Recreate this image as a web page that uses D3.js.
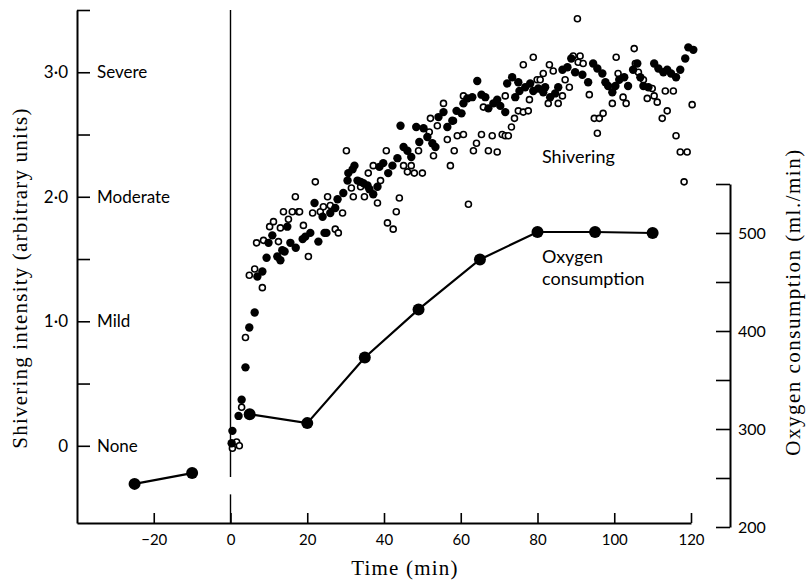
<!DOCTYPE html>
<html>
<head>
<meta charset="utf-8">
<script src="https://cdn.jsdelivr.net/npm/d3@7"></script>
<style>
  body { margin: 0; background: #fff; }
  .tick text { font-family: Lato, "Open Sans", sans-serif; fill: #000; }
  .title { font-family: "Liberation Serif", "DejaVu Serif", serif; fill: #000; }
  .note { font-family: Lato, "Open Sans", sans-serif; fill: #000; }
</style>
</head>
<body>
<div id="chart"></div>
<script>
// Shivering intensity, filled circles [time (min), intensity]
var shiverFilled = [
  [0.3,0.02],[0.5,0.12],[2.1,0.24],[2.9,0.37],[3.9,0.63],[4.9,0.95],[6.3,1.07],[7.0,1.36],
  [8.3,1.40],[9.4,1.51],[9.9,1.63],[10.9,1.69],[12.2,1.52],[13.0,1.49],[13.5,1.57],[14.1,1.56],
  [14.8,1.76],[15.6,1.63],[17.0,1.59],[18.8,1.66],[19.5,1.68],[20.8,1.71],[21.9,1.95],[22.9,1.64],
  [24.0,1.84],[24.5,1.71],[25.0,1.71],[26.0,1.87],[27.3,1.91],[27.9,1.98],[29.4,2.03],[30.5,2.13],
  [30.7,2.19],[31.8,2.22],[32.3,2.25],[33.1,2.13],[33.9,2.12],[34.6,2.11],[35.7,2.09],[36.2,2.06],
  [37.2,2.02],[38.3,2.08],[38.8,2.24],[39.8,2.27],[41.1,2.19],[42.2,2.25],[43.5,2.31],[44.3,2.57],
  [45.1,2.40],[46.1,2.37],[47.1,2.32],[48.4,2.56],[49.2,2.44],[50.3,2.55],[51.3,2.48],[52.6,2.43],
  [53.4,2.40],[54.2,2.64],[55.5,2.68],[56.5,2.56],[57.8,2.61],[58.9,2.69],[60.2,2.67],[60.7,2.75],
  [61.7,2.79],[63.0,2.80],[64.3,2.93],[65.4,2.82],[66.4,2.80],[67.2,2.71],[68.5,2.75],[69.5,2.78],
  [70.3,2.73],[71.6,2.68],[72.1,2.91],[73.4,2.96],[74.2,2.80],[75.0,2.92],[75.3,2.85],[76.8,2.88],
  [78.1,2.91],[78.9,2.85],[80.2,2.87],[81.5,2.84],[82.0,2.88],[83.3,2.80],[84.6,2.83],[85.4,2.88],
  [86.5,3.02],[87.8,3.04],[88.8,3.11],[89.8,3.00],[91.7,2.98],[93.2,2.92],[94.5,3.07],[95.6,3.03],
  [96.9,2.99],[97.7,2.92],[98.4,2.89],[99.5,2.84],[100.3,2.89],[101.3,2.94],[102.6,2.96],[103.6,2.89],
  [104.9,3.02],[106.0,3.07],[106.8,2.96],[107.6,2.89],[108.9,2.88],[110.4,3.07],[111.5,3.03],[112.8,3.00],
  [113.8,3.02],[114.8,2.99],[116.1,2.96],[117.2,3.02],[118.5,3.11],[119.3,3.20],[120.6,3.18]
];

// Shivering intensity, open circles
var shiverOpen = [
  [0.5,-0.02],[1.6,0.03],[2.3,0.0],[2.9,0.31],[3.9,0.87],[4.9,1.37],[6.3,1.42],[6.8,1.63],
  [8.3,1.27],[8.6,1.65],[10.2,1.76],[11.2,1.80],[12.5,1.64],[13.0,1.75],[13.8,1.88],[15.1,1.82],
  [16.1,1.88],[16.9,2.00],[17.7,1.88],[18.0,1.88],[19.0,1.77],[20.3,1.52],[21.4,1.87],[22.1,2.12],
  [23.4,1.88],[24.2,1.92],[25.3,2.00],[26.0,1.93],[27.3,1.74],[28.1,1.71],[29.2,1.87],[30.2,2.37],
  [31.5,2.07],[32.0,2.00],[33.9,2.08],[34.9,2.00],[35.9,2.19],[37.2,2.25],[38.3,1.95],[39.1,2.13],
  [40.6,2.37],[40.9,1.79],[42.4,1.74],[43.2,1.88],[44.0,1.99],[45.1,2.25],[46.1,2.20],[47.1,2.25],
  [47.9,2.19],[49.0,2.37],[50.0,2.19],[51.8,2.52],[52.1,2.63],[52.9,2.33],[53.9,2.57],[55.5,2.75],
  [56.5,2.46],[57.3,2.25],[58.1,2.61],[58.3,2.37],[59.1,2.49],[60.7,2.50],[60.7,2.81],[62.0,1.94],
  [63.3,2.37],[64.1,2.43],[65.4,2.50],[65.9,2.72],[67.2,2.37],[68.2,2.49],[69.5,2.36],[70.8,2.50],
  [71.6,2.49],[71.6,2.81],[72.4,2.49],[73.2,2.56],[74.0,2.63],[75.0,2.69],[76.3,2.68],[76.3,3.06],
  [77.6,2.69],[77.9,2.78],[78.9,3.12],[79.9,2.94],[80.7,2.94],[81.5,2.99],[82.8,2.75],[83.1,3.06],
  [84.1,3.01],[85.4,2.75],[86.5,2.81],[87.2,2.94],[88.3,2.88],[89.3,3.13],[90.4,3.43],[90.6,3.08],
  [91.1,3.13],[91.9,3.07],[93.5,2.82],[94.8,2.63],[95.6,2.51],[96.1,2.63],[97.1,2.67],[99.5,2.75],
  [100.5,3.12],[101.0,2.99],[102.3,2.80],[103.1,2.75],[105.2,3.19],[105.5,3.07],[106.3,3.00],[107.6,2.94],
  [108.6,2.79],[109.9,2.87],[110.4,2.81],[111.2,2.76],[112.5,2.63],[113.3,2.85],[113.8,2.69],[115.4,2.85],
  [116.1,2.49],[117.2,2.36],[118.2,2.12],[119.0,2.36],[120.3,2.74]
];

// Oxygen consumption (ml./min)
var oxyBefore = [[-25,244],[-10,255]];
var oxyAfter = [[5,315],[20,306],[35,373],[49,422],[65,473],[80,501],[95,501],[110,500]];

var timeTicks = [-20,0,20,40,60,80,100,120];
var shiverTicks = [0,0.5,1,1.5,2,2.5,3,3.5];
var shiverNames = [[0,"None"],[1,"Mild"],[2,"Moderate"],[3,"Severe"]];
var oxyTicks = [200,250,300,350,400,450,500,550];

var svg = d3.select("#chart")
  .append("svg")
  .attr("width", 809)
  .attr("height", 581);

// scales
var x = d3.scaleLinear().domain([-40, 120]).range([77, 691]);
var y = d3.scaleLinear().domain([-0.62, 3.5]).range([523, 10]);
var y2 = d3.scaleLinear().domain([200, 550]).range([527, 184]);

// x axis, ticks pointing up
svg.append("g")
  .attr("transform", "translate(0," + y(-0.62) + ")")
  .call(d3.axisBottom(x).tickValues(timeTicks).tickSize(0).tickPadding(11)
    .tickFormat(function(d) { return d < 0 ? "\u2212" + (-d) : d; }))
  .call(function(g) {
    g.select(".domain").attr("stroke-width", 2);
    g.selectAll(".tick line").attr("y2", -10).attr("stroke-width", 1.6);
    g.selectAll(".tick text").style("font-size", "15px");
  });

// left axis
svg.append("g")
  .attr("transform", "translate(" + x(-40) + ",0)")
  .call(d3.axisLeft(y).tickValues(shiverTicks).tickSize(0).tickSizeOuter(0).tickPadding(9)
    .tickFormat(function(d) {
      if (d % 1 !== 0) return "";
      return d === 0 ? "0" : d.toFixed(1).replace(".", "\u00b7");
    }))
  .call(function(g) {
    g.select(".domain").attr("stroke-width", 2);
    g.selectAll(".tick line").attr("x2", 13).attr("stroke-width", 1.6);
    g.selectAll(".tick text").style("font-size", "17px");
  });

svg.append("g")
  .selectAll("text")
  .data(shiverNames)
  .enter()
  .append("text")
  .attr("class", "note")
  .attr("x", x(-40) + 20)
  .attr("y", function(d) { return y(d[0]); })
  .attr("dy", "0.35em")
  .style("font-size", "17px")
  .text(function(d) { return d[1]; });

// right axis
svg.append("g")
  .attr("transform", "translate(730,0)")
  .call(d3.axisRight(y2).tickValues(oxyTicks).tickSize(0).tickSizeOuter(0).tickPadding(8)
    .tickFormat(function(d) { return d % 100 === 0 ? d : ""; }))
  .call(function(g) {
    g.select(".domain").attr("stroke-width", 2);
    g.selectAll(".tick line").attr("x2", -14).attr("stroke-width", 1.6);
    g.selectAll(".tick text").style("font-size", "16px");
  });

// vertical line at time zero (broken near the bottom)
var zeroLine = [[3.5, -0.25], [-0.39, -0.62]];
svg.append("g")
  .selectAll("line")
  .data(zeroLine)
  .enter()
  .append("line")
  .attr("x1", x(0)).attr("x2", x(0))
  .attr("y1", function(d) { return y(d[0]); })
  .attr("y2", function(d) { return y(d[1]); })
  .attr("stroke", "#000")
  .attr("stroke-width", 1.4);

// oxygen consumption line
var oxyLine = d3.line()
  .x(function(d) { return x(d[0]); })
  .y(function(d) { return y2(d[1]); });

[oxyBefore, oxyAfter].forEach(function(seg) {
  svg.append("path")
    .datum(seg)
    .attr("d", oxyLine)
    .attr("fill", "none")
    .attr("stroke", "#000")
    .attr("stroke-width", 2.2);
});

svg.append("g")
  .selectAll("circle")
  .data(oxyBefore.concat(oxyAfter))
  .enter()
  .append("circle")
  .attr("cx", function(d) { return x(d[0]); })
  .attr("cy", function(d) { return y2(d[1]); })
  .attr("r", 6)
  .attr("fill", "#000");

// shivering points
svg.append("g")
  .selectAll("circle")
  .data(shiverOpen)
  .enter()
  .append("circle")
  .attr("cx", function(d) { return x(d[0]); })
  .attr("cy", function(d) { return y(d[1]); })
  .attr("r", 3)
  .attr("fill", "#fff")
  .attr("stroke", "#000")
  .attr("stroke-width", 1.6);

svg.append("g")
  .selectAll("circle")
  .data(shiverFilled)
  .enter()
  .append("circle")
  .attr("cx", function(d) { return x(d[0]); })
  .attr("cy", function(d) { return y(d[1]); })
  .attr("r", 4.2)
  .attr("fill", "#000");

// labels
svg.append("text")
  .attr("class", "note")
  .attr("x", 542).attr("y", 163)
  .style("font-size", "18px")
  .text("Shivering");

svg.append("text")
  .attr("class", "note")
  .attr("x", 542).attr("y", 263)
  .style("font-size", "18px")
  .text("Oxygen");

svg.append("text")
  .attr("class", "note")
  .attr("x", 542).attr("y", 285)
  .style("font-size", "18px")
  .text("consumption");

svg.append("text")
  .attr("class", "title")
  .attr("x", 405).attr("y", 575)
  .attr("text-anchor", "middle")
  .style("font-size", "21px")
  .style("letter-spacing", "1.2px")
  .text("Time (min)");

svg.append("text")
  .attr("class", "title")
  .attr("transform", "translate(27,278) rotate(-90)")
  .attr("text-anchor", "middle")
  .style("font-size", "21px")
  .style("letter-spacing", "1.2px")
  .text("Shivering intensity (arbitrary units)");

svg.append("text")
  .attr("class", "title")
  .attr("transform", "translate(800,302) rotate(-90)")
  .attr("text-anchor", "middle")
  .style("font-size", "21px")
  .style("letter-spacing", "1.5px")
  .text("Oxygen consumption (ml./min)");
</script>
</body>
</html>
